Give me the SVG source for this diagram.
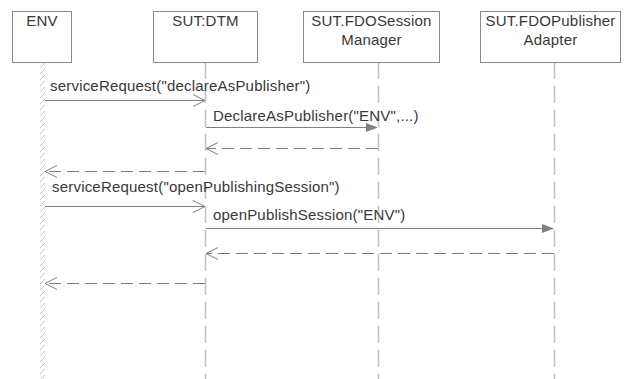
<svg xmlns="http://www.w3.org/2000/svg" width="629" height="379" viewBox="0 0 629 379">
<style>
text{font-family:"Liberation Sans",Arial,sans-serif;font-size:15px;letter-spacing:0.2px;fill:#383838}
.box{fill:#fff;stroke:#8a8a8a;stroke-width:1}
.life{stroke:#c4c4c4;stroke-width:1.6;stroke-dasharray:17 7;fill:none}
.msg{stroke:#808080;stroke-width:1;fill:none}
.ret{stroke:#808080;stroke-width:1;fill:none;stroke-dasharray:12 6}
.open{stroke:#808080;stroke-width:1;fill:none}
.fill{fill:#808080;stroke:none}
</style>
<defs>
<pattern id="hatch" patternUnits="userSpaceOnUse" x="39" y="62" width="8" height="6">
<line x1="1" y1="6" x2="6" y2="1" stroke="#c4c4c4" stroke-width="1"/>
</pattern>
</defs>
<rect width="629" height="379" fill="#fff"/>
<g id="lifelines">
<rect x="39" y="62" width="8" height="317" fill="url(#hatch)"/>
<line class="life" x1="205.5" y1="62" x2="205.5" y2="379"/>
<line class="life" x1="378.5" y1="62" x2="378.5" y2="379"/>
<line class="life" x1="554.5" y1="62" x2="554.5" y2="379"/>
</g>
<g id="node-env">
<rect class="box" x="12.5" y="11.5" width="59" height="51"/>
<text x="42" y="26" text-anchor="middle">ENV</text>
</g>
<g id="node-dtm">
<rect class="box" x="153.5" y="11.5" width="104" height="51"/>
<text x="205.5" y="26" text-anchor="middle">SUT:DTM</text>
</g>
<g id="node-session">
<rect class="box" x="303.5" y="11.5" width="136" height="51"/>
<text x="371.5" y="26" text-anchor="middle">SUT.FDOSession</text>
<text x="371.5" y="45" text-anchor="middle">Manager</text>
</g>
<g id="node-adapter">
<rect class="box" x="480.5" y="11.5" width="140" height="51"/>
<text x="550.5" y="26" text-anchor="middle">SUT.FDOPublisher</text>
<text x="550.5" y="45" text-anchor="middle">Adapter</text>
</g>
<g id="connectors">
<line class="msg" x1="45" y1="100.5" x2="205" y2="100.5"/>
<polyline class="open" points="193,94.5 205,100.5 193,106.5"/>
<text x="50" y="91">serviceRequest("declareAsPublisher")</text>

<line class="msg" x1="206" y1="127.5" x2="368" y2="127.5"/>
<polygon class="fill" points="366,123 378,127.5 366,132"/>
<text x="213" y="121">DeclareAsPublisher("ENV",...)</text>

<line class="ret" x1="378" y1="148.5" x2="207" y2="148.5"/>
<polyline class="open" points="218,142.5 206,148.5 218,154.5"/>

<line class="ret" x1="205" y1="171.5" x2="47" y2="171.5"/>
<polyline class="open" points="57,165.5 45,171.5 57,177.5"/>

<line class="msg" x1="45" y1="206.5" x2="205" y2="206.5"/>
<polyline class="open" points="193,200.5 205,206.5 193,212.5"/>
<text x="52" y="192">serviceRequest("openPublishingSession")</text>

<line class="msg" x1="206" y1="228.5" x2="544" y2="228.5"/>
<polygon class="fill" points="542,224 554,228.5 542,233"/>
<text x="213" y="220">openPublishSession("ENV")</text>

<line class="ret" x1="554" y1="253.5" x2="207" y2="253.5"/>
<polyline class="open" points="218,247.5 206,253.5 218,259.5"/>

<line class="ret" x1="205" y1="283.5" x2="47" y2="283.5"/>
<polyline class="open" points="57,277.5 45,283.5 57,289.5"/>
</g>
</svg>
